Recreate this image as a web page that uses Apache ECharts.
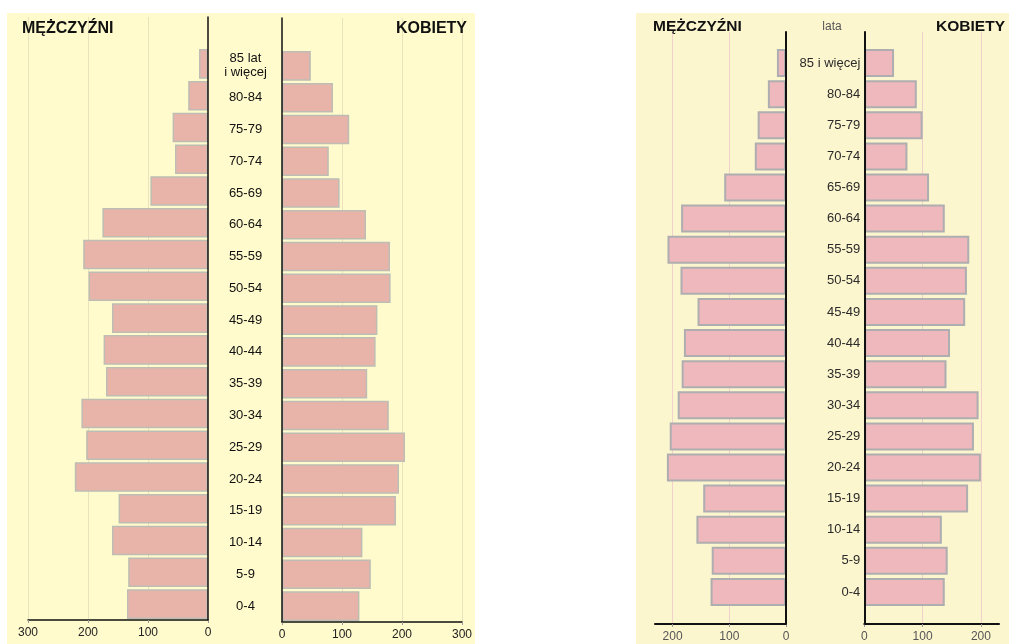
<!DOCTYPE html>
<html>
<head>
<meta charset="utf-8">
<script src="https://cdn.jsdelivr.net/npm/echarts@6/dist/echarts.min.js"></script>
<style>
html,body{margin:0;padding:0;background:#fff;}
#c{width:1009px;height:644px;}
</style>
</head>
<body>
<div id="c"></div>
<script>
// Categories (bottom to top)
const catsLeft = ['0-4','5-9','10-14','15-19','20-24','25-29','30-34','35-39','40-44','45-49','50-54','55-59','60-64','65-69','70-74','75-79','80-84','85 lat\ni więcej'];
const catsRight = ['0-4','5-9','10-14','15-19','20-24','25-29','30-34','35-39','40-44','45-49','50-54','55-59','60-64','65-69','70-74','75-79','80-84','85 i więcej'];

// Left pyramid
const leftMen   = [135,133,160,149,222,203,211,170,174,160,199,208,176,96,55,59,33,15];
const leftWomen = [129,148,134,190,195,205,178,142,156,159,181,180,140,96,78,112,85,48];
// Right pyramid
const rightMen   = [133,131,158,146,210,205,191,184,180,156,186,209,185,109,55,50,32,16];
const rightWomen = [138,143,133,178,200,188,196,141,147,173,176,180,138,111,74,100,90,51];

const leftMax = 300, rightMax = 231;
const titleMen = 'MĘŻCZYŹNI', titleWomen = 'KOBIETY', yearsLabel = 'lata';

const FONT = '"Liberation Sans", Arial, sans-serif';

const chart = echarts.init(document.getElementById('c'), null, {renderer:'canvas'});

// main grids: 0 LM, 1 LF, 2 RM, 3 RF ; line grids: 4 LM, 5 LF, 6 RM, 7 RF
const grid = [
  {left:28,  top:48, width:180, height:572},
  {left:282, top:50, width:180, height:572},
  {left:655, top:47.5, width:131, height:560},
  {left:864.3, top:47.5, width:134.7, height:560},
  {left:28,  top:17, width:180, height:603},
  {left:282, top:18, width:180, height:604},
  {left:655, top:32, width:131, height:592},
  {left:864.3, top:32, width:134.7, height:592}
];

function mainX(i, max, inverse){
  return {gridIndex:i, type:'value', min:0, max:max, inverse:inverse, show:false};
}
function lineX(i, max, inverse, opts){
  return {
    gridIndex:i, type:'value', min:0, max:max, interval:100, inverse:inverse, position:'bottom', z:0,
    axisLine:{show:true, onZero:false, lineStyle:{color:'#111', width:opts.w}},
    axisTick:{show:true, length:3, lineStyle:{color:'#999'}},
    axisLabel:{show:true, fontFamily:FONT, fontSize:12, color:opts.lc, margin:opts.m, showMaxLabel:opts.showMax},
    splitLine:{show:true, showMinLine:false, showMaxLine:opts.showMax, lineStyle:{color:opts.gc, width:1}}
  };
}
function lineY(i, pos, w){
  return {
    gridIndex:i, type:'value', min:0, max:1, position:pos, z:5,
    axisLine:{show:true, onZero:false, lineStyle:{color:'#111', width:w}},
    axisTick:{show:false}, axisLabel:{show:false}, splitLine:{show:false}
  };
}

const leftOpts = {w:1.5, lc:'#222', m:7, gc:'#e9e2bc', showMax:true};
const rightOpts = {w:2, lc:'#555', m:7, gc:'#f2d0cc', showMax:false};

const xAxis = [
  mainX(0, leftMax, true), mainX(1, leftMax, false),
  mainX(2, rightMax, true), mainX(3, rightMax, false),
  lineX(4, leftMax, true, leftOpts), lineX(5, leftMax, false, leftOpts),
  lineX(6, rightMax, true, rightOpts), lineX(7, rightMax, false, rightOpts)
];

const yAxis = [
  {gridIndex:0, type:'category', data:catsLeft, show:false},
  {gridIndex:1, type:'category', data:catsLeft, position:'left',
    axisLine:{show:false}, axisTick:{show:false}, splitLine:{show:false},
    axisLabel:{show:true, interval:0, align:'center', margin:36.5, fontFamily:FONT, fontSize:13, color:'#111', lineHeight:14}},
  {gridIndex:2, type:'category', data:catsRight, show:false},
  {gridIndex:3, type:'category', data:catsRight, position:'left',
    axisLine:{show:false}, axisTick:{show:false}, splitLine:{show:false},
    axisLabel:{show:true, interval:0, margin:4, fontFamily:FONT, fontSize:13, color:'#2a2a2a'}},
  lineY(4, 'right', 1.5), lineY(5, 'left', 1.5), lineY(6, 'right', 2), lineY(7, 'left', 2)
];

const leftBarStyle = {color:'#e8b4aa', borderColor:'#bdbdb4', borderWidth:1.5};
const rightBarStyle = {color:'#eeb8bd', borderColor:'#aeaeb0', borderWidth:2};

const series = [
  {type:'bar', xAxisIndex:0, yAxisIndex:0, data:leftMen, barCategoryGap:'7%', itemStyle:leftBarStyle, z:2, silent:true},
  {type:'bar', xAxisIndex:1, yAxisIndex:1, data:leftWomen, barCategoryGap:'7%', itemStyle:leftBarStyle, z:2, silent:true},
  {type:'bar', xAxisIndex:2, yAxisIndex:2, data:rightMen, barCategoryGap:'10%', itemStyle:rightBarStyle, z:2, silent:true},
  {type:'bar', xAxisIndex:3, yAxisIndex:3, data:rightWomen, barCategoryGap:'10%', itemStyle:rightBarStyle, z:2, silent:true}
];

const titleStyleL = {fontFamily:FONT, fontSize:16, fontWeight:'bold', color:'#111'};
const titleStyleR = {fontFamily:FONT, fontSize:15.5, fontWeight:'bold', color:'#111'};

const option = {
  animation:false,
  backgroundColor:'#ffffff',
  graphic:[
    {type:'rect', z:-10, silent:true, shape:{x:7, y:13, width:468, height:631}, style:{fill:'#fffbcc'}},
    {type:'rect', z:-10, silent:true, shape:{x:636, y:13, width:373, height:631}, style:{fill:'#fcf6cf'}}
  ],
  title:[
    {text:titleMen, left:22, top:21, padding:0, textStyle:titleStyleL},
    {text:titleWomen, right:542, top:21, padding:0, textStyle:titleStyleL},
    {text:titleMen, left:653, top:19, padding:0, textStyle:titleStyleR},
    {text:titleWomen, right:4, top:19, padding:0, textStyle:titleStyleR},
    {text:yearsLabel, left:832, textAlign:'center', top:21, padding:0, textStyle:{fontFamily:FONT, fontSize:12, fontWeight:'normal', color:'#555'}}
  ],
  grid:grid,
  xAxis:xAxis,
  yAxis:yAxis,
  series:series
};
chart.setOption(option);
</script>
</body>
</html>
